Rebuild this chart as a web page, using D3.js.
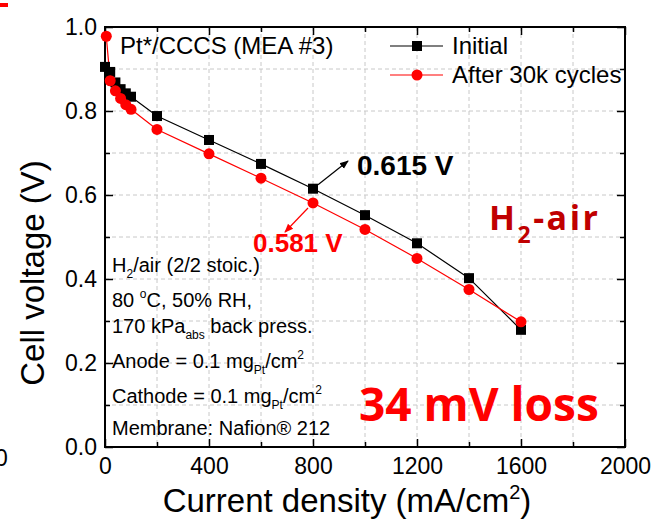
<!DOCTYPE html>
<html>
<head>
<meta charset="utf-8">
<script src="https://cdn.jsdelivr.net/npm/d3@7"></script>
<style>
  html, body { margin: 0; padding: 0; background: #fff; }
  svg { display: block; }
  text { font-family: "Liberation Sans", Arial, sans-serif; }
</style>
</head>
<body>
<svg id="chart" width="656" height="522"></svg>
<script>
// Polarization curves, Pt*/CCCS MEA #3, H2/air
const currentDensity = [0, 20, 40, 60, 80, 100, 200, 400, 600, 800, 1000, 1200, 1400, 1600];
const initialVoltage = [0.905, 0.893, 0.868, 0.852, 0.842, 0.834, 0.788, 0.731, 0.674, 0.615, 0.552, 0.485, 0.402, 0.279];
const afterCurrent   = [5, 20, 40, 60, 80, 100, 200, 400, 600, 800, 1000, 1200, 1400, 1600];
const afterVoltage   = [0.978, 0.872, 0.848, 0.830, 0.815, 0.804, 0.756, 0.698, 0.640, 0.581, 0.518, 0.449, 0.375, 0.298];
const xMajorTicks = [0, 400, 800, 1200, 1600, 2000];
const yMajorTicks = [0.0, 0.2, 0.4, 0.6, 0.8, 1.0];
const seriesNames = ["Initial", "After 30k cycles"];

const svg = d3.select("#chart");
const plotL = 105, plotR = 625, plotT = 27, plotB = 447;

const x = d3.scaleLinear().domain([0, 2000]).range([plotL, plotR]);
const y = d3.scaleLinear().domain([0, 1]).range([plotB, plotT]);

// stray marks at the page edge
svg.append("rect").attr("x", 0).attr("y", 3).attr("width", 8).attr("height", 4).attr("fill", "#ff0000");
svg.append("text").attr("x", -5).attr("y", 466).attr("font-size", 23).text("0");

// dashed grid
const grid = svg.append("g").attr("stroke", "#c8c8c8").attr("stroke-width", 1).attr("stroke-dasharray", "4,3");
d3.range(200, 2000, 200).forEach(v => {
  grid.append("line").attr("x1", x(v)).attr("x2", x(v)).attr("y1", plotT).attr("y2", plotB);
});
d3.range(1, 10).forEach(i => {
  const v = i / 10;
  grid.append("line").attr("x1", plotL).attr("x2", plotR).attr("y1", y(v)).attr("y2", y(v));
});

// axes with inward ticks
function styleAxis(g) {
  g.select(".domain").remove();
  g.selectAll(".tick line").attr("stroke", "#000").attr("stroke-width", 1.5);
  g.selectAll(".tick text").attr("font-size", 23).attr("fill", "#000")
    .style("font-family", '"Liberation Sans", Arial, sans-serif');
}
const xMinor = d3.range(0, 2001, 200).filter(v => !xMajorTicks.includes(v));
const yMinor = d3.range(1, 10, 2).map(i => i / 10);

svg.append("g").attr("transform", `translate(0,${plotB})`)
  .call(d3.axisBottom(x).tickValues(xMajorTicks).tickSize(-8).tickPadding(11).tickFormat(d3.format("d")))
  .call(styleAxis);
svg.append("g").attr("transform", `translate(0,${plotB})`)
  .call(d3.axisBottom(x).tickValues(xMinor).tickSize(-5).tickFormat(""))
  .call(styleAxis);
svg.append("g").attr("transform", `translate(0,${plotT})`)
  .call(d3.axisTop(x).tickValues(xMajorTicks).tickSize(-8).tickFormat(""))
  .call(styleAxis);
svg.append("g").attr("transform", `translate(0,${plotT})`)
  .call(d3.axisTop(x).tickValues(xMinor).tickSize(-5).tickFormat(""))
  .call(styleAxis);
svg.append("g").attr("transform", `translate(${plotL},0)`)
  .call(d3.axisLeft(y).tickValues(yMajorTicks).tickSize(-8).tickPadding(8).tickFormat(d3.format(".1f")))
  .call(styleAxis);
svg.append("g").attr("transform", `translate(${plotL},0)`)
  .call(d3.axisLeft(y).tickValues(yMinor).tickSize(-5).tickFormat(""))
  .call(styleAxis);
svg.append("g").attr("transform", `translate(${plotR},0)`)
  .call(d3.axisRight(y).tickValues(yMajorTicks).tickSize(-8).tickFormat(""))
  .call(styleAxis);
svg.append("g").attr("transform", `translate(${plotR},0)`)
  .call(d3.axisRight(y).tickValues(yMinor).tickSize(-5).tickFormat(""))
  .call(styleAxis);

// frame
svg.append("rect").attr("x", plotL).attr("y", plotT).attr("width", plotR - plotL).attr("height", plotB - plotT)
  .attr("fill", "none").attr("stroke", "#000").attr("stroke-width", 2);

// axis titles
svg.append("text")
  .attr("transform", `translate(44,273) rotate(-90)`)
  .attr("text-anchor", "middle").attr("font-size", 33).text("Cell voltage (V)");
const xt = svg.append("text").attr("x", 347).attr("y", 512).attr("text-anchor", "middle").attr("font-size", 33);
xt.append("tspan").text("Current density (mA/cm");
xt.append("tspan").attr("font-size", 20).attr("dy", -13).text("2");
xt.append("tspan").attr("dy", 13).text(")");

// series
const initialData = currentDensity.map((c, i) => ({ c, v: initialVoltage[i] }));
const afterData = afterCurrent.map((c, i) => ({ c, v: afterVoltage[i] }));
const line = d3.line().x(d => x(d.c)).y(d => y(d.v));

svg.append("path").datum(initialData).attr("d", line).attr("fill", "none").attr("stroke", "#000").attr("stroke-width", 1.2);
svg.append("path").datum(afterData).attr("d", line).attr("fill", "none").attr("stroke", "#ff0000").attr("stroke-width", 1.2);

svg.append("g").selectAll("rect").data(initialData).join("rect")
  .attr("x", d => x(d.c) - 5).attr("y", d => y(d.v) - 5).attr("width", 10).attr("height", 10).attr("fill", "#000");
svg.append("g").selectAll("circle").data(afterData).join("circle")
  .attr("cx", d => x(d.c)).attr("cy", d => y(d.v)).attr("r", 5.5).attr("fill", "#ff0000");

// legend
const lg = svg.append("g");
lg.append("line").attr("x1", 390).attr("x2", 443).attr("y1", 46).attr("y2", 46).attr("stroke", "#000").attr("stroke-width", 1.2);
lg.append("rect").attr("x", 412).attr("y", 41).attr("width", 10).attr("height", 10).attr("fill", "#000");
lg.append("text").attr("x", 452).attr("y", 54).attr("font-size", 24).text(seriesNames[0]);
lg.append("line").attr("x1", 390).attr("x2", 443).attr("y1", 75).attr("y2", 75).attr("stroke", "#ff0000").attr("stroke-width", 1.2);
lg.append("circle").attr("cx", 417).attr("cy", 75).attr("r", 5.5).attr("fill", "#ff0000");
lg.append("text").attr("x", 452).attr("y", 83).attr("font-size", 24).text(seriesNames[1]);

svg.append("text").attr("x", 120).attr("y", 54).attr("font-size", 24).text("Pt*/CCCS (MEA #3)");

// value callouts at 800 mA/cm2
const defs = svg.append("defs");
[["arrBlack", "#000"], ["arrRed", "#ff0000"]].forEach(([id, col]) => {
  defs.append("marker").attr("id", id).attr("viewBox", "0 0 10 10").attr("refX", 9).attr("refY", 5)
    .attr("markerWidth", 9).attr("markerHeight", 9).attr("markerUnits", "userSpaceOnUse").attr("orient", "auto")
    .append("path").attr("d", "M0,1 L10,5 L0,9 Z").attr("fill", col);
});
const iv800 = initialVoltage[currentDensity.indexOf(800)];
const av800 = afterVoltage[afterCurrent.indexOf(800)];
svg.append("line").attr("x1", x(800) + 5).attr("y1", y(iv800) - 4).attr("x2", 348).attr("y2", 161)
  .attr("stroke", "#000").attr("stroke-width", 1.2).attr("marker-end", "url(#arrBlack)");
svg.append("line").attr("x1", x(800) - 5).attr("y1", y(av800) + 5).attr("x2", 285).attr("y2", 232)
  .attr("stroke", "#ff0000").attr("stroke-width", 1.2).attr("marker-end", "url(#arrRed)");
svg.append("text").attr("x", 357).attr("y", 175).attr("font-size", 28).attr("font-weight", "bold")
  .text(d3.format(".3f")(iv800) + " V");
svg.append("text").attr("x", 253).attr("y", 252).attr("font-size", 26).attr("font-weight", "bold").attr("fill", "#ff0000")
  .text(d3.format(".3f")(av800) + " V");

// H2-air and loss labels
const h2 = svg.append("text").attr("x", 489).attr("y", 230).attr("font-size", 34).attr("font-weight", "bold")
  .attr("letter-spacing", 2.5)
  .attr("fill", "#c00000").style("font-family", "'Open Sans', Lato, sans-serif");
h2.append("tspan").text("H");
h2.append("tspan").attr("font-size", 23).attr("dy", 13).text("2");
h2.append("tspan").attr("dy", -13).text("-air");

svg.append("text").attr("x", 359).attr("y", 421).attr("font-size", 46).attr("font-weight", "bold")
  .attr("fill", "#ff0000").style("font-family", "'Open Sans', Lato, sans-serif")
  .text(Math.round((iv800 - av800) * 1000) + " mV loss");

// operating conditions
const cond = svg.append("g").attr("font-size", 20);
function condLine(yb, parts) {
  const t = cond.append("text").attr("x", 112).attr("y", yb);
  let shift = 0;
  parts.forEach(p => {
    const [str, kind] = Array.isArray(p) ? p : [p, null];
    const target = kind === "sub" ? 6 : kind === "sup" ? -9 : 0;
    const ts = t.append("tspan").attr("dy", target - shift).text(str);
    if (kind) ts.attr("font-size", 12);
    shift = target;
  });
}
condLine(272, ["H", ["2", "sub"], "/air (2/2 stoic.)"]);
condLine(307, ["80 ", ["o", "sup"], "C, 50% RH,"]);
condLine(333, ["170 kPa", ["abs", "sub"], " back press."]);
condLine(368, ["Anode = 0.1 mg", ["Pt", "sub"], "/cm", ["2", "sup"]]);
condLine(403, ["Cathode = 0.1 mg", ["Pt", "sub"], "/cm", ["2", "sup"]]);
condLine(435, ["Membrane: Nafion\u00AE 212"]);
</script>
</body>
</html>
